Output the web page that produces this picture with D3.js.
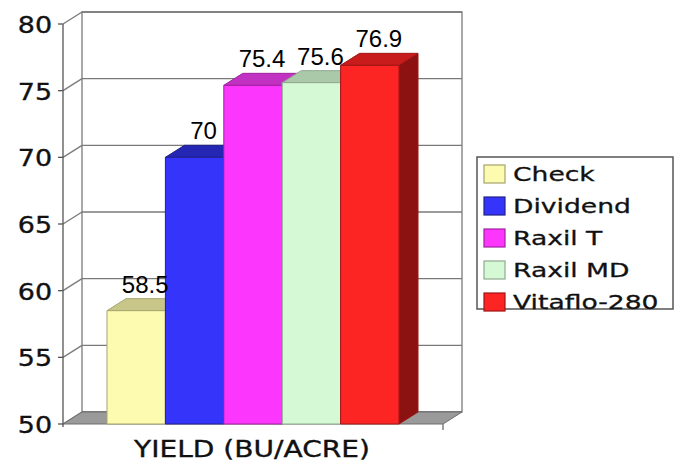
<!DOCTYPE html>
<html>
<head>
<meta charset="utf-8">
<script src="https://cdn.jsdelivr.net/npm/d3@7"></script>
<style>
  body { margin: 0; background: #fff; }
  svg { display: block; }
</style>
</head>
<body>
<svg id="chart" width="683" height="462"></svg>
<script>
// data
var names = ["Check", "Dividend", "Raxil T", "Raxil MD", "Vitaflo-280"];
var yields = [58.5, 70, 75.4, 75.6, 76.9];
var tickValues = [50, 55, 60, 65, 70, 75, 80];
var axisTitle = "YIELD (BU/ACRE)";

var frontColors = ["#fdfbb0", "#3434fb", "#fd36fd", "#d5f9d5", "#fd2424"];
var topColors = ["#c9c68a", "#2626b4", "#c232c2", "#a9c9a9", "#c81c1c"];
var sideColors = ["#a8a570", "#1c1c8c", "#961f96", "#86a586", "#8c1212"];
var edgeColors = ["#a5a56e", "#22228a", "#a020a0", "#90a890", "#a01414"];

var svg = d3.select("#chart");
var dx = 19, dy = -12;   // depth offset of the 3d look

var y = d3.scaleLinear().domain([50, 80]).range([424, 24]);
var x = d3.scaleBand().domain(names).range([107, 399]).padding(0);
var left = 63, right = 443;

function pts(a) { return a.map(function (p) { return p.join(","); }).join(" "); }

// back wall
svg.append("polygon")
  .attr("points", pts([[left + dx, y(80) + dy], [right + dx, y(80) + dy], [right + dx, y(50) + dy], [left + dx, y(50) + dy]]))
  .attr("fill", "#fff").attr("stroke", "#7a7a7a").attr("stroke-width", 1.3);

// gridlines on back wall and slant lines on side wall
var grid = svg.append("g").attr("stroke", "#7a7a7a").attr("stroke-width", 1.3).attr("fill", "none");
tickValues.forEach(function (v) {
  grid.append("line")
    .attr("x1", left + dx).attr("x2", right + dx)
    .attr("y1", y(v) + dy).attr("y2", y(v) + dy);
  grid.append("line")
    .attr("x1", left).attr("y1", y(v))
    .attr("x2", left + dx).attr("y2", y(v) + dy);
});

// floor
svg.append("polygon")
  .attr("points", pts([[left, y(50)], [right, y(50)], [right + dx, y(50) + dy], [left + dx, y(50) + dy]]))
  .attr("fill", "#9a9a9a").attr("stroke", "#6e6e6e").attr("stroke-width", 1);
svg.append("line")
  .attr("x1", right).attr("x2", right).attr("y1", y(50)).attr("y2", y(50) + 6)
  .attr("stroke", "#6e6e6e").attr("stroke-width", 1.3);

// front value axis
svg.append("line")
  .attr("x1", left).attr("x2", left).attr("y1", y(80)).attr("y2", y(50) + 3)
  .attr("stroke", "#555").attr("stroke-width", 1.3);
var ticks = svg.append("g");
tickValues.forEach(function (v) {
  ticks.append("line")
    .attr("x1", left - 5).attr("x2", left)
    .attr("y1", y(v)).attr("y2", y(v))
    .attr("stroke", "#555").attr("stroke-width", 1.3);
  ticks.append("g")
    .attr("transform", "translate(" + (left - 11) + "," + (y(v) + 9) + ") scale(1.17,1)")
    .append("text")
    .attr("text-anchor", "end")
    .attr("font-family", "DejaVu Sans, Verdana, sans-serif")
    .attr("font-size", 23)
    .attr("fill", "#111").attr("stroke", "#111").attr("stroke-width", 0.35)
    .text(v);
});

// bars
var bars = svg.append("g");
names.forEach(function (n, i) {
  var x0 = x(n), x1 = x(n) + x.bandwidth();
  var yt = y(yields[i]), yb = y(50);
  var g = bars.append("g").attr("stroke", edgeColors[i]).attr("stroke-width", 1).attr("stroke-linejoin", "round");
  g.append("polygon")
    .attr("points", pts([[x1, yt], [x1 + dx, yt + dy], [x1 + dx, yb + dy], [x1, yb]]))
    .attr("fill", sideColors[i]);
  g.append("polygon")
    .attr("points", pts([[x0, yt], [x0 + dx, yt + dy], [x1 + dx, yt + dy], [x1, yt]]))
    .attr("fill", topColors[i]);
  g.append("rect")
    .attr("x", x0).attr("y", yt)
    .attr("width", x.bandwidth()).attr("height", yb - yt)
    .attr("fill", frontColors[i]);
});

// value labels
svg.append("g").selectAll("text")
  .data(names)
  .join("text")
  .attr("x", function (n) { return x(n) + x.bandwidth() / 2 + 9; })
  .attr("y", function (n, i) { return y(yields[i]) + dy - 6; })
  .attr("text-anchor", "middle")
  .attr("font-family", "Liberation Sans, Arial, sans-serif")
  .attr("font-size", 24)
  .attr("fill", "#000")
  .text(function (n, i) { return yields[i]; });

// category title
svg.append("g")
  .attr("transform", "translate(252,457) scale(1.22,1)")
  .append("text")
  .attr("text-anchor", "middle")
  .attr("font-family", "DejaVu Sans, Verdana, sans-serif")
  .attr("font-size", 23)
  .attr("fill", "#111").attr("stroke", "#111").attr("stroke-width", 0.35)
  .text(axisTitle);

// legend
var legend = svg.append("g");
legend.append("rect")
  .attr("x", 477).attr("y", 157).attr("width", 196).attr("height", 152)
  .attr("fill", "#fff").attr("stroke", "#555").attr("stroke-width", 1.5);
var row = d3.scalePoint().domain(names).range([174, 302]);
names.forEach(function (n, i) {
  legend.append("rect")
    .attr("x", 484).attr("y", row(n) - 9).attr("width", 21).attr("height", 18)
    .attr("fill", frontColors[i]).attr("stroke", edgeColors[i]).attr("stroke-width", 1.2);
  legend.append("g")
    .attr("transform", "translate(513," + (row(n) + 7) + ") scale(1.33,1)")
    .append("text")
    .attr("font-family", "DejaVu Sans, Verdana, sans-serif")
    .attr("font-size", 20)
    .attr("fill", "#111").attr("stroke", "#111").attr("stroke-width", 0.3)
    .text(n);
});
</script>
</body>
</html>
